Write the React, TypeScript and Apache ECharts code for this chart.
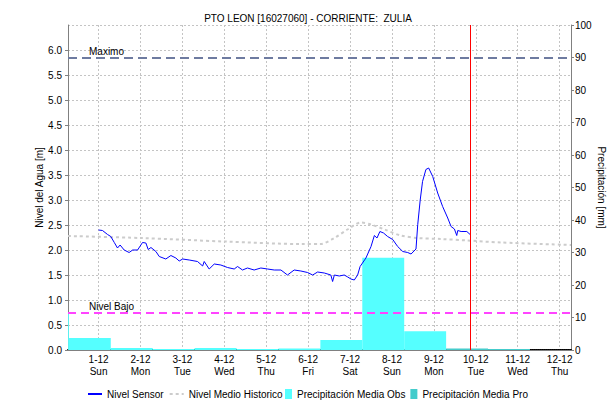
import React, { useEffect, useRef } from 'react';
import * as echarts from 'echarts';

const TITLE = 'PTO LEON [16027060] - CORRIENTE:  ZULIA';
const WEEKDAYS = ['Sun', 'Mon', 'Tue', 'Wed', 'Thu', 'Fri', 'Sat'];
const X_MIN = '2024-11-30 06:30';
const X_MAX = '2024-12-12 06:30';
const NOW_TIME = '2024-12-09 20:45';
const LEVEL_MAX = 5.85;
const LEVEL_LOW = 0.75;

const sensorTimes = [
  '2024-12-01 00:00', '2024-12-01 02:15', '2024-12-01 05:10', '2024-12-01 07:00', '2024-12-01 09:00',
  '2024-12-01 10:50', '2024-12-01 12:20', '2024-12-01 14:40', '2024-12-01 17:30', '2024-12-01 19:30',
  '2024-12-01 22:20', '2024-12-02 01:10', '2024-12-02 03:05', '2024-12-02 04:25', '2024-12-02 06:00',
  '2024-12-02 08:50', '2024-12-02 10:45', '2024-12-02 14:30', '2024-12-02 17:25', '2024-12-02 20:15',
  '2024-12-02 22:10', '2024-12-03 00:10', '2024-12-03 03:55', '2024-12-03 08:40', '2024-12-03 11:35',
  '2024-12-03 12:30', '2024-12-03 15:20', '2024-12-03 18:15', '2024-12-03 22:00', '2024-12-04 01:50',
  '2024-12-04 05:40', '2024-12-04 07:35', '2024-12-04 10:25', '2024-12-04 13:15', '2024-12-04 17:05',
  '2024-12-04 20:55', '2024-12-05 00:45', '2024-12-05 04:35', '2024-12-05 08:25', '2024-12-05 12:10',
  '2024-12-05 16:00', '2024-12-05 19:50', '2024-12-05 23:40', '2024-12-06 02:35', '2024-12-06 05:25',
  '2024-12-06 09:15', '2024-12-06 13:00', '2024-12-06 14:00', '2024-12-06 15:00', '2024-12-06 17:50',
  '2024-12-06 20:40', '2024-12-06 22:40', '2024-12-07 00:30', '2024-12-07 02:25', '2024-12-07 04:20',
  '2024-12-07 05:45', '2024-12-07 09:05', '2024-12-07 12:00', '2024-12-07 13:55', '2024-12-07 15:25',
  '2024-12-07 17:05', '2024-12-07 19:10', '2024-12-07 21:30', '2024-12-08 00:25', '2024-12-08 03:15',
  '2024-12-08 06:10', '2024-12-08 09:00', '2024-12-08 10:55', '2024-12-08 13:45', '2024-12-08 14:45',
  '2024-12-08 16:10', '2024-12-08 17:30', '2024-12-08 19:25', '2024-12-08 21:00', '2024-12-08 23:20',
  '2024-12-09 02:10', '2024-12-09 05:00', '2024-12-09 07:55', '2024-12-09 09:50', '2024-12-09 11:45',
  '2024-12-09 13:05', '2024-12-09 13:40', '2024-12-09 15:35', '2024-12-09 18:50', '2024-12-09 20:45',
];
const sensorLevels = [
  2.40, 2.39, 2.31, 2.27, 2.15,
  2.04, 2.10, 2.00, 1.95, 2.00,
  2.00, 2.15, 2.14, 2.01, 2.05,
  1.97, 1.87, 1.82, 1.89, 1.84,
  1.78, 1.82, 1.80, 1.77, 1.68,
  1.77, 1.62, 1.72, 1.70, 1.65,
  1.62, 1.67, 1.60, 1.64, 1.60,
  1.64, 1.62, 1.60, 1.60, 1.50,
  1.60, 1.58, 1.55, 1.50, 1.56,
  1.54, 1.50, 1.37, 1.50, 1.48,
  1.50, 1.46, 1.42, 1.40, 1.50,
  1.67, 1.84, 2.07, 2.29, 2.24,
  2.37, 2.34, 2.27, 2.21, 2.07,
  1.97, 1.95, 1.92, 2.02, 2.51,
  3.00, 3.37, 3.61, 3.64, 3.47,
  3.14, 2.87, 2.64, 2.47, 2.42,
  2.29, 2.39, 2.37, 2.37, 2.31,
];

const histTimes = [
  '2024-11-30 06:30', '2024-12-02 00:00', '2024-12-04 00:00', '2024-12-05 20:00', '2024-12-06 07:00',
  '2024-12-06 15:00', '2024-12-06 22:30', '2024-12-07 06:15', '2024-12-07 12:00', '2024-12-07 19:45',
  '2024-12-08 05:00', '2024-12-08 14:40', '2024-12-09 04:00', '2024-12-09 19:30', '2024-12-10 14:20',
  '2024-12-12 06:30',
];
const histLevels = [
  2.28, 2.24, 2.17, 2.12, 2.12,
  2.24, 2.41, 2.55, 2.51, 2.41,
  2.29, 2.24, 2.22, 2.19, 2.15,
  2.10,
];

const obsStarts = [
  '2024-11-29 07:00', '2024-11-30 07:00', '2024-12-01 07:00', '2024-12-02 07:00', '2024-12-03 07:00',
  '2024-12-04 07:00', '2024-12-05 07:00', '2024-12-06 07:00', '2024-12-07 07:00', '2024-12-08 07:00',
];
const obsValues = [11.5, 3.7, 0.6, 0.3, 0.6, 0.3, 0.5, 3.1, 28.4, 5.8];

const proStarts = ['2024-12-09 07:00', '2024-12-10 07:00', '2024-12-11 07:00'];
const proValues = [0.5, 0.3, 0];

const DAY = 24 * 3600 * 1000;
const FONT = '"Liberation Sans", Arial, sans-serif';

function parseTime(s: string): number {
  const [d, h] = s.split(' ');
  const [y, m, dd] = d.split('-').map(Number);
  const [hh, mm] = h.split(':').map(Number);
  return new Date(y, m - 1, dd, hh, mm).getTime();
}

function barData(starts: string[], values: number[]) {
  return starts.map((s, i) => {
    const t0 = parseTime(s);
    return [t0, t0 + DAY, values[i]];
  });
}

function renderBar(params: any, api: any) {
  const p0 = api.coord([api.value(0), api.value(2)]);
  const p1 = api.coord([api.value(1), 0]);
  const cs = params.coordSys;
  const shape = echarts.graphic.clipRectByRect(
    { x: p0[0], y: p0[1], width: p1[0] - p0[0], height: p1[1] - p0[1] },
    { x: cs.x, y: cs.y, width: cs.width, height: cs.height }
  );
  if (!shape) return null;
  return { type: 'rect', shape, style: api.style() };
}

export default function App() {
  const ref = useRef<HTMLDivElement>(null);
  useEffect(() => {
    if (!ref.current) return;
    const chart = echarts.init(ref.current, null, { renderer: 'svg' });
    const xMin = parseTime(X_MIN);
    const xMax = parseTime(X_MAX);
    const gridDash = { color: '#c4c4c4', type: [2, 2] as any, width: 1 };
    const option: any = {
      animation: false,
      backgroundColor: '#ffffff',
      textStyle: { fontFamily: FONT },
      title: {
        text: TITLE,
        left: 'center',
        top: 8,
        textStyle: { fontSize: 10, fontWeight: 'normal', color: '#000', fontFamily: FONT },
      },
      grid: { left: 68, right: 45, top: 25, bottom: 54, outerBoundsMode: 'none' },
      legend: [
        {
          data: ['Nivel Sensor', 'Nivel Medio Historico'],
          left: 87,
          top: 389,
          itemWidth: 14,
          itemHeight: 10,
          itemGap: 5,
          padding: 0,
          itemStyle: { opacity: 0 },
          textStyle: { fontSize: 10, color: '#000', fontFamily: FONT },
        },
        {
          data: ['Precipitación Media Obs', 'Precipitación Media Pro'],
          left: 285,
          top: 389,
          itemWidth: 7,
          itemHeight: 10,
          itemGap: 5,
          padding: 0,
          icon: 'rect',
          textStyle: { fontSize: 10, color: '#000', fontFamily: FONT },
        },
      ],
      xAxis: [
        {
          type: 'time',
          min: xMin,
          max: xMax,
          minInterval: DAY,
          maxInterval: DAY,
          splitNumber: 12,
          axisLine: { show: true, lineStyle: { color: '#000', width: 2, type: [1, 1] } },
          axisTick: { show: false },
          axisLabel: {
            color: '#000',
            fontSize: 10,
            lineHeight: 12,
            margin: 3,
            hideOverlap: false,
            fontFamily: FONT,
            formatter: (v: number) => {
              const d = new Date(v);
              if (d.getHours() !== 0 || d.getMinutes() !== 0) return '';
              return `${d.getDate()}-${d.getMonth() + 1}\n${WEEKDAYS[d.getDay()]}`;
            },
          },
          splitLine: { show: true, lineStyle: gridDash },
        },
        {
          type: 'time',
          position: 'top',
          min: xMin,
          max: xMax,
          axisLine: { show: true, lineStyle: { color: '#808080', width: 1 } },
          axisTick: { show: false },
          axisLabel: { show: false },
          splitLine: { show: false },
        },
      ],
      yAxis: [
        {
          type: 'value',
          position: 'left',
          min: 0,
          max: 6.5,
          interval: 0.5,
          name: 'Nivel del Agua [m]',
          nameLocation: 'middle',
          nameGap: 24,
          nameMoveOverlap: false,
          nameTextStyle: { fontSize: 10, color: '#000', fontFamily: FONT },
          axisLine: { show: true, lineStyle: { color: '#808080' } },
          axisTick: { show: true, length: 3, lineStyle: { color: '#808080' } },
          axisLabel: {
            color: '#000',
            fontSize: 10,
            margin: 6,
            showMaxLabel: false,
            fontFamily: FONT,
            formatter: (v: number) => v.toFixed(1),
          },
          splitLine: { show: true, lineStyle: gridDash },
        },
        {
          type: 'value',
          position: 'right',
          min: 0,
          max: 100,
          interval: 10,
          name: 'Precipitación [mm]',
          nameLocation: 'middle',
          nameRotate: -90,
          nameGap: 25,
          nameMoveOverlap: false,
          nameTextStyle: { fontSize: 10, color: '#000', fontFamily: FONT },
          axisLine: { show: true, lineStyle: { color: '#808080' } },
          axisTick: { show: true, length: 3, lineStyle: { color: '#808080' } },
          axisLabel: { color: '#000', fontSize: 10, margin: 4, fontFamily: FONT },
          splitLine: { show: false },
        },
      ],
      series: [
        {
          name: 'Precipitación Media Obs',
          type: 'custom',
          yAxisIndex: 1,
          renderItem: renderBar,
          encode: { x: [0, 1], y: 2 },
          itemStyle: { color: '#55ffff' },
          data: barData(obsStarts, obsValues),
          z: 1,
        },
        {
          name: 'Precipitación Media Pro',
          type: 'custom',
          yAxisIndex: 1,
          renderItem: renderBar,
          encode: { x: [0, 1], y: 2 },
          itemStyle: { color: '#44cccc' },
          data: barData(proStarts, proValues),
          z: 1,
        },
        {
          name: 'Nivel Medio Historico',
          type: 'line',
          symbol: 'none',
          smooth: 0.3,
          color: '#cccccc',
          lineStyle: { color: '#cccccc', width: 2, type: [3, 3] },
          data: histTimes.map((t, i) => [parseTime(t), histLevels[i]]),
          z: 2,
        },
        {
          name: 'Nivel Sensor',
          type: 'line',
          symbol: 'none',
          color: '#0000ff',
          lineStyle: { color: '#0000ff', width: 1 },
          data: sensorTimes.map((t, i) => [parseTime(t), sensorLevels[i]]),
          z: 3,
          markLine: {
            silent: true,
            symbol: ['none', 'none'],
            animation: false,
            data: [
              {
                yAxis: LEVEL_MAX,
                lineStyle: { color: '#6e7ba0', width: 2, type: [9, 5] },
                label: {
                  show: true,
                  formatter: 'Maximo',
                  position: 'insideStartTop',
                  distance: [21, 1],
                  color: '#000',
                  fontSize: 10,
                  fontFamily: FONT,
                },
              },
              {
                yAxis: LEVEL_LOW,
                lineStyle: { color: '#ff44ff', width: 2, type: [8, 5] },
                label: {
                  show: true,
                  formatter: 'Nivel Bajo',
                  position: 'insideStartTop',
                  distance: [21, 1],
                  color: '#000',
                  fontSize: 10,
                  fontFamily: FONT,
                },
              },
              {
                xAxis: parseTime(NOW_TIME),
                lineStyle: { color: '#ff0000', width: 1, type: 'solid' },
                label: { show: false },
              },
            ],
          },
        },
      ],
    };
    chart.setOption(option);
    return () => chart.dispose();
  }, []);
  return (
    <div
      ref={ref}
      style={{ position: 'absolute', left: 0, top: 0, width: 616, height: 404, background: '#fff' }}
    />
  );
}
